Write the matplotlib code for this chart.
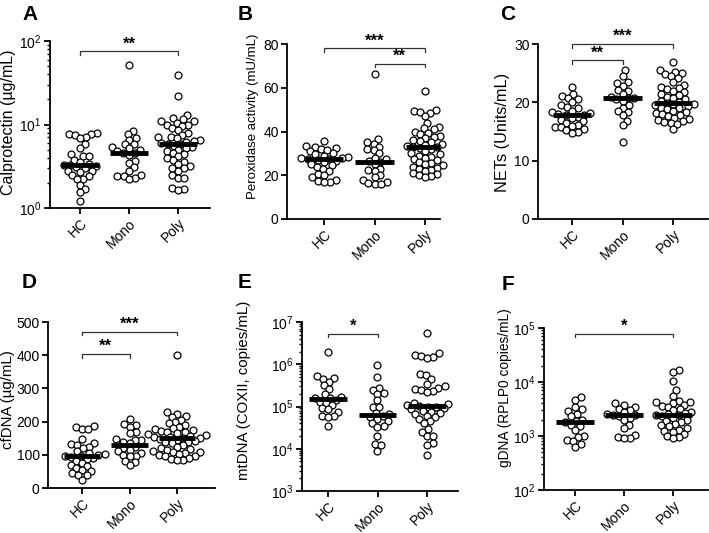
import numpy as np
import matplotlib
matplotlib.use('Agg')
import matplotlib.pyplot as plt
from matplotlib.ticker import LogLocator, NullFormatter

plt.rcParams.update({'font.family': 'Liberation Sans', 'font.size': 10,
                     'axes.linewidth': 1.3, 'xtick.major.width': 1.3, 'ytick.major.width': 1.3,
                     'ytick.minor.width': 1.0, 'xtick.major.size': 4, 'ytick.major.size': 4,
                     'ytick.minor.size': 2.2})

groups = ['HC', 'Mono', 'Poly']

#%% Datos
calpro_hc = [7.9, 7.8, 7.6, 7.5, 7.0, 6.8, 5.8, 5.3, 4.4, 4.2, 4.2, 3.8, 3.6, 3.4, 3.3,
             3.3, 3.2, 3.1, 3.0, 2.8, 2.8, 2.7, 2.5, 2.4, 2.2, 2.2, 1.9, 1.7, 1.55, 1.2]
calpro_mono = [52, 8.4, 7.8, 6.9, 6.6, 5.9, 5.8, 5.4, 5.2, 5.0, 4.8, 4.6, 4.5, 4.3, 3.7,
               3.5, 3.1, 2.8, 2.5, 2.4, 2.4, 2.3, 2.2]
calpro_poly = [39, 22, 13, 12, 11.5, 11, 11, 10.5, 10, 10, 9.5, 9, 8.5, 8, 7.5, 7, 7, 6.8,
               6.5, 6.4, 6.2, 6.0, 5.9, 5.8, 5.6, 5.4, 5.2, 5.0, 4.8, 4.6, 4.4, 4.2, 4.0,
               3.8, 3.6, 3.4, 3.2, 3.0, 3.0, 2.8, 2.5, 2.3, 2.3, 1.75, 1.7, 1.65]

perox_hc = [35.5, 33.5, 33, 32.5, 32, 31.5, 31, 30, 29.5, 29, 28.5, 28, 28, 27.5, 27.5,
            27, 26.5, 26, 25, 24.5, 24, 23, 22, 20.5, 20, 19, 18, 17.5, 17, 17]
perox_mono = [66.5, 36.5, 35, 34.5, 33, 32, 31.5, 30, 28, 27.5, 26.5, 26, 25, 23, 22.5,
              22, 20, 19, 18, 17, 16.5, 16, 16]
perox_poly = [58.5, 50, 49.5, 49, 48.5, 47, 44, 42, 41.5, 41, 40, 39.5, 39, 38, 37.5, 37,
              36, 35.5, 35, 34.5, 34, 33.5, 33, 33, 32.5, 32, 31, 30, 29.5, 29, 28.5, 28,
              27.5, 27, 26, 25.5, 25, 24.5, 24, 23.5, 23, 22.5, 22, 21, 20.5, 20, 19.5, 19]

nets_hc = [22.6, 21.5, 21.1, 20.8, 20.5, 20, 19.5, 19.2, 19, 18.6, 18.3, 18.1, 18, 17.9,
           17.8, 17.5, 17.3, 17, 16.8, 16.5, 16.2, 16, 15.8, 15.8, 15.5, 15.2, 15, 14.8]
nets_mono = [25.5, 24.5, 23.5, 23.3, 22.8, 22.2, 21.9, 21.5, 21, 20.8, 20.7, 20.5, 20.2,
             19.5, 19, 18.5, 18.3, 17.8, 16.8, 16.1, 13.2]
nets_poly = [27, 25.5, 25.2, 25, 24.8, 24.5, 24.2, 23.5, 23, 22.7, 22.5, 22.3, 22, 21.8,
             21.5, 21.2, 21, 20.8, 20.5, 20.3, 20.1, 19.9, 19.8, 19.7, 19.5, 19.3, 19.1, 19,
             18.8, 18.5, 18.3, 18.1, 18, 17.8, 17.6, 17.4, 17.2, 17, 16.8, 16.6, 16.5, 16.3, 15.5]

cfdna_hc = [187, 183, 177, 177, 147, 137, 133, 130, 125, 120, 110, 105, 102, 100, 97, 95,
            93, 90, 87, 80, 75, 70, 65, 60, 55, 50, 45, 40, 38, 25]
cfdna_mono = [208, 193, 190, 185, 170, 165, 148, 146, 145, 140, 135, 130, 125, 120, 115,
              110, 105, 100, 97, 95, 80, 77, 68]
cfdna_poly = [400, 228, 222, 218, 215, 205, 200, 195, 190, 185, 180, 178, 175, 172, 170,
              168, 165, 162, 160, 158, 155, 153, 152, 150, 148, 145, 142, 140, 138, 135,
              130, 125, 120, 118, 115, 110, 108, 107, 105, 103, 100, 97, 95, 90, 88, 85, 85]

mtdna_hc = [1.9e6, 5.2e5, 4.8e5, 4.5e5, 3.8e5, 3.2e5, 2.6e5, 2.0e5, 1.7e5, 1.6e5, 1.55e5,
            1.45e5, 1.3e5, 1.2e5, 1.1e5, 9e4, 8.5e4, 7.5e4, 6e4, 5.8e4, 5.5e4, 3.4e4]
mtdna_mono = [9.5e5, 5e5, 2.8e5, 2.5e5, 2.1e5, 2e5, 1.4e5, 1e5, 9.5e4, 7e4, 6.5e4, 6e4,
              5.5e4, 5e4, 4.5e4, 4e4, 3.5e4, 3.3e4, 2e4, 1.3e4, 1.2e4, 9e3]
mtdna_poly = [5.5e6, 1.8e6, 1.7e6, 1.6e6, 1.5e6, 1.4e6, 5.8e5, 5.5e5, 4.5e5, 3.5e5, 3e5,
              2.8e5, 2.6e5, 2.5e5, 2.3e5, 2.2e5, 1.2e5, 1.15e5, 1.1e5, 1.05e5, 1e5, 9.5e4,
              9e4, 8.5e4, 8e4, 7.5e4, 7e4, 6.5e4, 6e4, 5.5e4, 5e4, 4.5e4, 4e4, 3e4, 2.5e4,
              2e4, 2e4, 1.4e4, 1.2e4, 7e3]

gdna_hc = [5.2e3, 4.6e3, 3.4e3, 3.1e3, 2.9e3, 2.6e3, 2.3e3, 2.0e3, 1.9e3, 1.8e3, 1.6e3,
           1.5e3, 1.3e3, 1.0e3, 950, 850, 800, 700, 620]
gdna_mono = [4e3, 3.8e3, 3.5e3, 3.2e3, 3e3, 2.8e3, 2.6e3, 2.5e3, 2.45e3, 2.35e3, 2.2e3,
             2e3, 1.6e3, 1.4e3, 1.05e3, 950, 900, 900]
gdna_poly = [1.7e4, 1.5e4, 1.05e4, 7e3, 5.5e3, 4.5e3, 4.3e3, 4.2e3, 4e3, 3.8e3, 3.6e3,
             3.4e3, 3.2e3, 3e3, 2.8e3, 2.7e3, 2.6e3, 2.5e3, 2.4e3, 2.3e3, 2.2e3, 2e3,
             1.9e3, 1.8e3, 1.7e3, 1.6e3, 1.5e3, 1.4e3, 1.3e3, 1.25e3, 1.2e3, 1.1e3, 1e3,
             950, 900]

# comparaciones: (grupo1, grupo2, altura, estrellas)
sig_a = [(0, 2, 75, '**')]
sig_b = [(0, 2, 78, '***'), (1, 2, 71, '**')]
sig_c = [(0, 2, 30, '***'), (0, 1, 27.2, '**')]
sig_d = [(0, 2, 470, '***'), (0, 1, 403, '**')]
sig_e = [(0, 1, 5.3e6, '*')]
sig_f = [(0, 2, 7.8e4, '*')]

paneles = [
    ('A', 'Calprotectin (µg/mL)', [calpro_hc, calpro_mono, calpro_poly], True, (1, 100), None, sig_a),
    ('B', 'Peroxidase activity (mU/mL)', [perox_hc, perox_mono, perox_poly], False, (0, 80), [0, 20, 40, 60, 80], sig_b),
    ('C', 'NETs (Units/mL)', [nets_hc, nets_mono, nets_poly], False, (0, 30), [0, 10, 20, 30], sig_c),
    ('D', 'cfDNA (µg/mL)', [cfdna_hc, cfdna_mono, cfdna_poly], False, (0, 500), [0, 100, 200, 300, 400, 500], sig_d),
    ('E', 'mtDNA (COXII, copies/mL)', [mtdna_hc, mtdna_mono, mtdna_poly], True, (1e3, 1e7), None, sig_e),
    ('F', 'gDNA (RPLP0 copies/mL)', [gdna_hc, gdna_mono, gdna_poly], True, (1e2, 1e5), None, sig_f),
]

# Geometria en pixeles: (izq, arriba, der, abajo, x_HC, x_Poly, x_label, y_label, tam_label, x_letra, y_letra)
W, H = 709, 533
layout = [
    (50, 41, 210, 208, 80, 178, 8, 122, 11.5, 22, 14),
    (287, 44, 440, 219, 324, 425, 253, 116, 9.5, 238, 14),
    (538, 44, 708, 219, 572, 673, 502, 132, 11.8, 500, 14),
    (48, 322, 215, 488, 82, 177, 8, 400, 10.8, 22, 282),
    (302, 322, 458, 491, 328, 427, 244, 390, 10.8, 238, 282),
    (544, 328, 708, 490, 575, 673, 506, 388, 9.9, 502, 285),
]


def swarm(ax, xc, vals, d=6.3):
    """ desplazamientos tipo beeswarm calculados en pixeles """
    pts = ax.transData.transform(np.column_stack([np.full(len(vals), xc), vals]))
    ypx = pts[:, 1]
    x0 = pts[0, 0]
    xs = np.zeros(len(vals))
    placed = []
    for i in np.argsort(ypx):
        y = ypx[i]
        near = [(px, py) for px, py in placed if abs(py - y) < d]
        cands = [0.0]
        for px, py in near:
            dx = np.sqrt(d * d - (py - y) ** 2)
            cands += [px + dx, px - dx]
        cands.sort(key=abs)
        for c in cands:
            if all((c - px) ** 2 + (y - py) ** 2 >= d * d - 1e-6 for px, py in near):
                xs[i] = c
                break
        placed.append((xs[i], y))
    return ax.transData.inverted().transform(np.column_stack([x0 + xs, ypx]))[:, 0]


fig = plt.figure(figsize=(W / 100, H / 100), dpi=100)

for (letra, ylab, datos, logy, ylim, yticks, sigs), lay in zip(paneles, layout):
    l, t, r, b, xhc, xpo, xl, yl, fs, xlet, ylet = lay
    ax = fig.add_axes([l / W, 1 - b / H, (r - l) / W, (b - t) / H])
    s = (xpo - xhc) / 2
    ax.set_xlim((l - xhc) / s, 2 + (r - xpo) / s)
    if logy:
        ax.set_yscale('log')
        ax.yaxis.set_major_locator(LogLocator(base=10, numticks=10))
        ax.yaxis.set_minor_locator(LogLocator(base=10, subs=np.arange(2, 10), numticks=10))
        ax.yaxis.set_minor_formatter(NullFormatter())
    else:
        ax.set_yticks(yticks)
    ax.set_ylim(ylim)
    for sp in ['top', 'right']:
        ax.spines[sp].set_visible(False)
    ax.set_xticks(range(3))
    ax.set_xticklabels(groups, rotation=45, ha='right', rotation_mode='anchor')
    ax.tick_params(axis='x', pad=2)
    ax.tick_params(axis='y', pad=2)

    for i, vals in enumerate(datos):
        xs = swarm(ax, i, vals)
        ax.plot(xs, vals, 'o', mfc='white', mec='black', ms=5, mew=0.9, zorder=2, clip_on=False)
        med = np.median(vals)
        ax.plot([i - 0.38, i + 0.38], [med, med], color='black', lw=3.5,
                solid_capstyle='butt', zorder=3)

    # barras de significancia
    for g1, g2, yy, txt in sigs:
        p1 = ax.transData.transform((g1, yy))
        inv = ax.transData.inverted()
        ybot = inv.transform((p1[0], p1[1] - 3.5))[1]
        ax.plot([g1, g1, g2, g2], [ybot, yy, yy, ybot], color='#333333', lw=0.9, clip_on=False)
        ax.annotate(txt, ((g1 + g2) / 2, yy), xytext=(0, 0), textcoords='offset points',
                    ha='center', va='bottom', fontsize=12, fontweight='bold', annotation_clip=False)

    ax.set_ylabel(ylab, fontsize=fs)
    em = fs * 100 / 72
    ax.yaxis.set_label_coords((xl + 0.47 * em - l) / (r - l), (b - yl) / (b - t))

    fig.text(xlet / W, 1 - ylet / H, letra, fontsize=15, fontweight='bold', ha='left', va='center')

fig.savefig('out.png', dpi=100)
